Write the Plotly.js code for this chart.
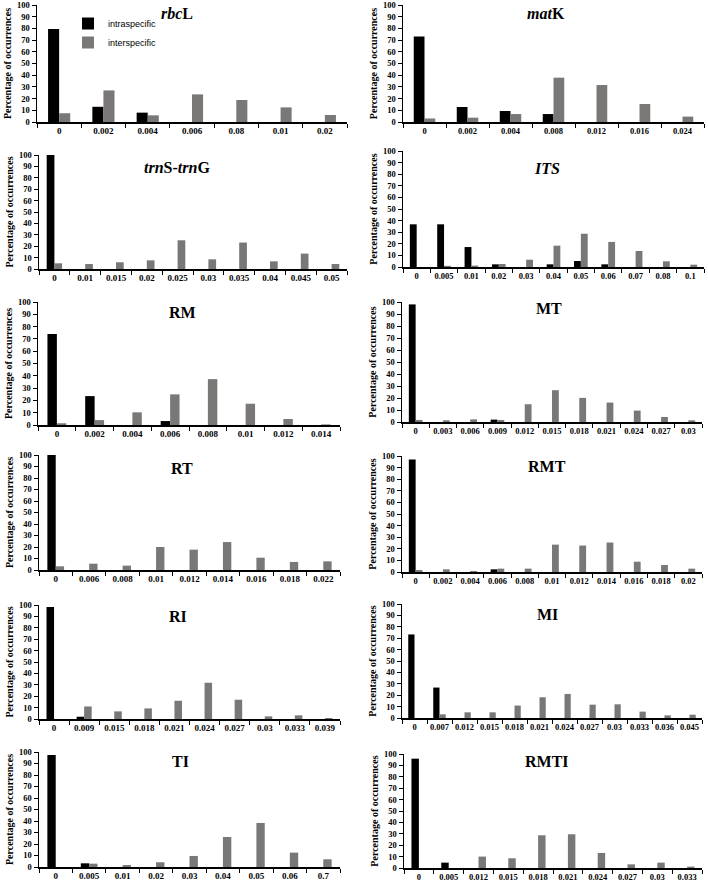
<!DOCTYPE html>
<html><head><meta charset="utf-8">
<script src="https://cdn.plot.ly/plotly-3.0.1.min.js"></script>
<style>body{margin:0;padding:0;background:#fff}#chart{width:708px;height:883px}</style>
</head><body><div id="chart"></div>
<script>
// ---- data ----
const rbcL_cats  = ["0","0.002","0.004","0.006","0.08","0.01","0.02"];
const rbcL_intra = [79.5, 13, 8, 0, 0, 0, 0];
const rbcL_inter = [7.5, 27, 5.7, 23.6, 18.8, 12.5, 6];

const matK_cats  = ["0","0.002","0.004","0.008","0.012","0.016","0.024"];
const matK_intra = [73, 12.8, 9.4, 6.8, 0, 0, 0];
const matK_inter = [3, 3.7, 6.8, 37.9, 31.6, 15.4, 4.6];

const trn_cats  = ["0","0.01","0.015","0.02","0.025","0.03","0.035","0.04","0.045","0.05"];
const trn_intra = [100, 0, 0, 0, 0, 0, 0, 0, 0, 0];
const trn_inter = [5, 4.4, 5.9, 7.6, 25.2, 8.5, 23.2, 6.7, 13.5, 4.4];

const its_cats  = ["0","0.005","0.01","0.02","0.03","0.04","0.05","0.06","0.07","0.08","0.1"];
const its_intra = [36.8, 36.8, 17.2, 2.3, 0, 2.3, 5.2, 2.3, 0, 0, 0];
const its_inter = [0, 1, 1.2, 2.6, 6.3, 18.4, 28.7, 21.6, 13.8, 4.9, 2];

const rm_cats  = ["0","0.002","0.004","0.006","0.008","0.01","0.012","0.014"];
const rm_intra = [74, 23.5, 0, 3.2, 0, 0, 0, 0];
const rm_inter = [1.4, 4, 10.3, 24.9, 37.3, 17.3, 4.9, 0.5];

const mt_cats  = ["0","0.003","0.006","0.009","0.012","0.015","0.018","0.021","0.024","0.027","0.03"];
const mt_intra = [98, 0, 0, 2, 0, 0, 0, 0, 0, 0, 0];
const mt_inter = [1.7, 1.4, 2.2, 1.7, 14.8, 26.5, 20.1, 16.2, 9.5, 4.2, 1.4];

const rt_cats  = ["0","0.006","0.008","0.01","0.012","0.014","0.016","0.018","0.022"];
const rt_intra = [100, 0, 0, 0, 0, 0, 0, 0, 0];
const rt_inter = [3.2, 5.5, 3.8, 20, 17.7, 24.3, 10.7, 7, 7.5];

const rmt_cats  = ["0","0.002","0.004","0.006","0.008","0.01","0.012","0.014","0.016","0.018","0.02"];
const rmt_intra = [97, 0, 0, 2.3, 0, 0, 0, 0, 0, 0, 0];
const rmt_inter = [1.7, 2.3, 0.9, 2.9, 2.9, 23.6, 22.8, 25.4, 8.9, 6, 2.9];

const ri_cats  = ["0","0.009","0.015","0.018","0.021","0.024","0.027","0.03","0.033","0.039"];
const ri_intra = [98.3, 2, 0, 0, 0, 0, 0, 0, 0, 0];
const ri_inter = [0, 11, 6.7, 9.3, 16, 31.8, 16.9, 2.3, 3.2, 0.9];

const mi_cats  = ["0","0.007","0.012","0.015","0.018","0.021","0.024","0.027","0.03","0.033","0.036","0.045"];
const mi_intra = [73.3, 26.7, 0, 0, 0, 0, 0, 0, 0, 0, 0, 0];
const mi_inter = [0, 3.2, 5, 5, 10.9, 18.2, 21.1, 11.7, 12, 5.6, 2.3, 2.9];

const ti_cats  = ["0","0.005","0.01","0.02","0.03","0.04","0.05","0.06","0.7"];
const ti_intra = [97.4, 3.2, 0, 0, 0, 0, 0, 0, 0];
const ti_inter = [0, 2.9, 1.7, 4.1, 9.6, 26.1, 38.3, 12.5, 6.7];

const rmti_cats  = ["0","0.005","0.012","0.015","0.018","0.021","0.024","0.027","0.03","0.033"];
const rmti_intra = [95.9, 4.7, 0, 0, 0, 0, 0, 0, 0, 0];
const rmti_inter = [0, 0, 10, 8.5, 28.7, 29.6, 13.2, 3.2, 4.7, 1.2];

const panelTitles = ["<b><i>rbc</i>L</b>","<b><i>mat</i>K</b>","<b><i>trn</i>S-<i>trn</i>G</b>","<b><i>ITS</i></b>",
  "<b>RM</b>","<b>MT</b>","<b>RT</b>","<b>RMT</b>","<b>RI</b>","<b>MI</b>","<b>TI</b>","<b>RMTI</b>"];
const seriesNames = ["intraspecific","interspecific"];
const yTitle = "Percentage of occurrences";

// ---- layout geometry (pixels) ----
const W = 708, H = 883;
const panels = [
  [rbcL_cats, rbcL_intra, rbcL_inter],
  [matK_cats, matK_intra, matK_inter],
  [trn_cats, trn_intra, trn_inter],
  [its_cats, its_intra, its_inter],
  [rm_cats, rm_intra, rm_inter],
  [mt_cats, mt_intra, mt_inter],
  [rt_cats, rt_intra, rt_inter],
  [rmt_cats, rmt_intra, rmt_inter],
  [ri_cats, ri_intra, ri_inter],
  [mi_cats, mi_intra, mi_inter],
  [ti_cats, ti_intra, ti_inter],
  [rmti_cats, rmti_intra, rmti_inter]
];
const boxes = [
  [37,347,5,122],[403,704,5,122],
  [39,347,155,269],[403,704,151,267],
  [38,340,302,425],[402,702,302,422],
  [39,340,455,570],[402,702,456,572],
  [39,340,605,719],[402,702,604,718],
  [39,340,752,867],[404,702,754,868]
];
const titlePos = [
  [177,13],[546,14],[177,168],[547,169],[182,312],[549,309],
  [182,468],[547,466],[178,616],[547,614],[180,761],[547,761]
];

const BLACK = "#000000", GRAY = "#7a7777";
const serif = "Liberation Serif";
const traces = [];
const layout = {
  width: W, height: H, margin: {l:0,r:0,t:0,b:0},
  paper_bgcolor: "#fff", plot_bgcolor: "#fff",
  barmode: "group", bargap: 0.5, bargroupgap: 0,
  showlegend: true,
  legend: {x: 68/W, y: 1 - 9/H, xanchor: "left", yanchor: "top",
    font: {family: "Liberation Sans", size: 9, color: "#000"},
    bgcolor: "rgba(0,0,0,0)", itemwidth: 30, tracegroupgap: 0},
  annotations: []
};

panels.forEach((p, i) => {
  const n = i === 0 ? "" : String(i + 1);
  const [x0, x1, yt, yb] = boxes[i];
  traces.push({type: "bar", x: p[0], y: p[1], name: seriesNames[0], marker: {color: BLACK},
    xaxis: "x" + n, yaxis: "y" + n, showlegend: i === 0, legendgroup: "a", hoverinfo: "x+y"});
  traces.push({type: "bar", x: p[0], y: p[2], name: seriesNames[1], marker: {color: GRAY},
    xaxis: "x" + n, yaxis: "y" + n, showlegend: i === 0, legendgroup: "b", hoverinfo: "x+y"});
  layout["xaxis" + n] = {
    domain: [x0 / W, x1 / W], anchor: "y" + n, type: "category",
    tickson: "boundaries", ticks: "outside", ticklen: 4, tickwidth: 1, tickcolor: "#000",
    showline: true, linecolor: "#000", linewidth: 1.5, showgrid: false, zeroline: false,
    tickangle: 0, ticklabeloverflow: "allow",
    tickfont: {family: serif, size: (i % 2 === 1 ? 8.5 : 9), weight: "bold", color: "#000"}, fixedrange: true
  };
  layout["yaxis" + n] = {
    domain: [1 - yb / H, 1 - yt / H], anchor: "x" + n, range: [0, 100], dtick: 10,
    ticks: "outside", ticklen: 4, tickwidth: 1, tickcolor: "#000",
    showline: true, linecolor: "#000", linewidth: 1.5, showgrid: false, zeroline: false,
    ticklabeloverflow: "allow",
    tickfont: {family: serif, size: 8.5, weight: "bold", color: "#000"}, fixedrange: true,
    title: {text: yTitle, font: {family: serif, size: 10, weight: "bold", color: "#000"}, standoff: 3}
  };
  layout.annotations.push({
    text: panelTitles[i], xref: "paper", yref: "paper",
    x: titlePos[i][0] / W, y: 1 - titlePos[i][1] / H, xanchor: "center", yanchor: "middle",
    showarrow: false, font: {family: serif, size: 16, color: "#000"}
  });
});

Plotly.newPlot("chart", traces, layout, {staticPlot: true, displayModeBar: false});
</script></body></html>
